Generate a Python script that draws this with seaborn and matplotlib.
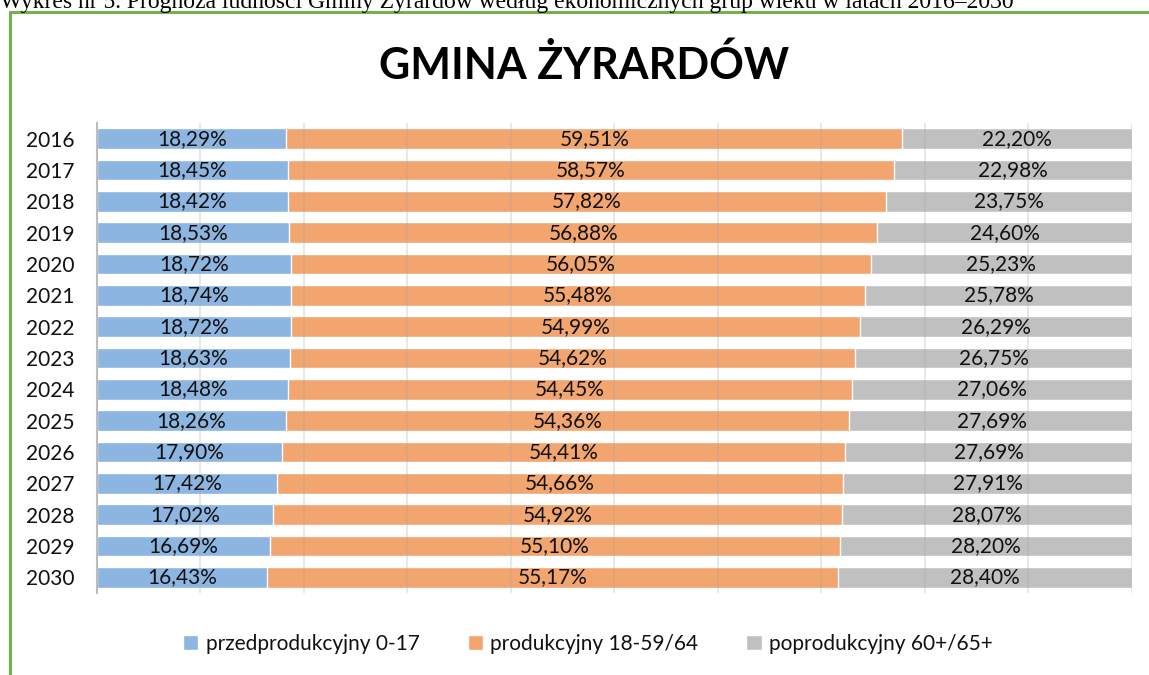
import matplotlib.pyplot as plt
import matplotlib.lines as mlines
import numpy as np
import pandas as pd
import seaborn as sns

years = [str(y) for y in range(2016, 2031)]
przed = [18.29, 18.45, 18.42, 18.53, 18.72, 18.74, 18.72, 18.63, 18.48, 18.26,
         17.90, 17.42, 17.02, 16.69, 16.43]
prod = [59.51, 58.57, 57.82, 56.88, 56.05, 55.48, 54.99, 54.62, 54.45, 54.36,
        54.41, 54.66, 54.92, 55.10, 55.17]
poprod = [22.20, 22.98, 23.75, 24.60, 25.23, 25.78, 26.29, 26.75, 27.06, 27.69,
          27.69, 27.91, 28.07, 28.20, 28.40]
series_names = ["przedprodukcyjny 0-17", "produkcyjny 18-59/64", "poprodukcyjny 60+/65+"]
colors = ["#8DB5E1", "#F2A56F", "#C0C0C0"]

df = pd.DataFrame({"year": years, "przed": przed, "prod": prod, "poprod": poprod})
df["c1"] = df["przed"]
df["c2"] = df["przed"] + df["prod"]
df["c3"] = df["c2"] + df["poprod"]

sns.set_style("white")
plt.rcParams["font.family"] = ["Lato", "DejaVu Sans"]
plt.rcParams["text.color"] = "#111111"
plt.rcParams["ytick.labelcolor"] = "#111111"

fig = plt.figure(figsize=(11.49, 6.75), dpi=100)
ax = fig.add_axes([97 / 1149, 1 - 593 / 675, 1035 / 1149, 470 / 675])

# stacked bars: draw cumulative totals from back to front
sns.barplot(data=df, x="c3", y="year", orient="h", color=colors[2], width=0.67,
            label=series_names[2], saturation=1, ax=ax, order=years)
sns.barplot(data=df, x="c2", y="year", orient="h", color=colors[1], width=0.67,
            label=series_names[1], saturation=1, ax=ax, order=years)
sns.barplot(data=df, x="c1", y="year", orient="h", color=colors[0], width=0.67,
            label=series_names[0], saturation=1, ax=ax, order=years)

def fmt(v):
    return f"{v:.2f}".replace(".", ",") + "%"

for i, row in df.iterrows():
    ax.text(row["przed"] / 2, i, fmt(row["przed"]), ha="center", va="center",
            fontsize=15, zorder=5)
    ax.text(row["c1"] + row["prod"] / 2, i, fmt(row["prod"]), ha="center", va="center",
            fontsize=15, zorder=5)
    ax.text(row["c2"] + row["poprod"] / 2, i, fmt(row["poprod"]), ha="center", va="center",
            fontsize=15, zorder=5)

ax.set_xlim(0, 100)
ax.set_ylim(14.5, -0.5)
ax.set_xticks(np.arange(0, 101, 10))
ax.set_xticklabels([])
ax.set_xlabel("")
ax.set_ylabel("")
ax.set_axisbelow(False)
ax.grid(axis="x", color="#a6a6a6", alpha=0.3, linewidth=1.2, zorder=3)
ax.tick_params(axis="x", length=5, color="#d9d9d9", width=1.2, direction="out")
ax.tick_params(axis="y", length=0, labelsize=15, pad=16)
for s in ["top", "right", "bottom"]:
    ax.spines[s].set_visible(False)
ax.spines["left"].set_color("#bfbfbf")
ax.spines["left"].set_linewidth(1.5)
if ax.get_legend() is not None:
    ax.get_legend().remove()

handles, labels = ax.get_legend_handles_labels()
order = [labels.index(n) for n in series_names]
fig.legend([handles[k] for k in order], [labels[k] for k in order],
           loc="center", bbox_to_anchor=(588 / 1149, 1 - 644 / 675), ncol=3, frameon=False,
           fontsize=15, handlelength=0.75, handleheight=0.75, handletextpad=0.35,
           columnspacing=2.3)

fig.text(584 / 1149, 1 - 65 / 675, "GMINA ŻYRARDÓW", ha="center", va="center",
         fontsize=31, fontweight="bold", color="black")

# caption above the frame (cut off at the top of the page, as in the source)
fig.text(0, 1 - 8 / 675, "Wykres nr 5. Prognoza ludności Gminy Żyrardów według ekonomicznych grup wieku w latach 2016–2030",
         ha="left", va="baseline", fontsize=17, family="Liberation Serif", color="black")

# green frame
frame_col = "#74B04C"
fig.add_artist(mlines.Line2D([9.5 / 1149, 1], [1 - 12 / 675, 1 - 12 / 675],
                             color=frame_col, linewidth=2.2, transform=fig.transFigure))
fig.add_artist(mlines.Line2D([9.5 / 1149, 9.5 / 1149], [0, 1 - 12 / 675],
                             color=frame_col, linewidth=2.2, transform=fig.transFigure))

fig.savefig("out.png", dpi=100)
